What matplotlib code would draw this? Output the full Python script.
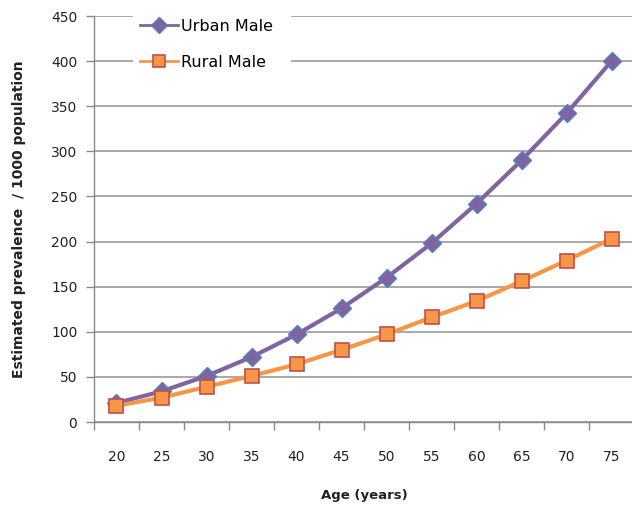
import matplotlib.pyplot as plt
from matplotlib.patches import Rectangle
import numpy as np

ages = ['20', '25', '30', '35', '40', '45', '50', '55', '60', '65', '70', '75']
urban_male = [21, 34, 51, 72, 97, 126, 160, 198, 242, 290, 342, 400]
rural_male = [18, 27, 39, 51, 64, 80, 97, 116, 134, 156, 179, 203]

fig = plt.figure(figsize=(6.32, 5.07), dpi=100)
ax = fig.add_axes([94/632, 85/507, 540/632, 406/507])

x = np.arange(len(ages))
ax.plot(x, urban_male, color='#8064A2', linewidth=3, marker='D', markersize=9,
        markerfacecolor='#8064A2', markeredgecolor='#4F81BD', markeredgewidth=1,
        label='Urban Male', zorder=3)
ax.plot(x, rural_male, color='#F79646', linewidth=3, marker='s', markersize=10.5,
        markerfacecolor='#F79646', markeredgecolor='#C0504D', markeredgewidth=1.2,
        label='Rural Male', zorder=3)

ax.set_xlim(-0.5, len(ages) - 0.5)
ax.set_ylim(0, 450)
ax.set_yticks(np.arange(0, 451, 50))
ax.set_xticks(x)
ax.set_xticklabels(ages)
ax.set_xticks(np.arange(-0.5, len(ages), 1), minor=True)
ax.tick_params(axis='x', which='major', length=0, pad=20, labelsize=10, labelcolor='#222222')
ax.tick_params(axis='x', which='minor', length=6, color='#888888', width=1)
ax.tick_params(axis='y', length=6, color='#888888', width=1, labelsize=10, labelcolor='#222222', pad=6)

ax.grid(axis='y', color='#999999', linewidth=1.2)
ax.set_axisbelow(True)
for s in ['top', 'right']:
    ax.spines[s].set_visible(False)
for s in ['left', 'bottom']:
    ax.spines[s].set_color('#888888')
    ax.spines[s].set_linewidth(1)

ax.set_xlabel('Age (years)', fontsize=9.5, fontweight='bold', color='#222222', labelpad=18)
ax.set_ylabel('Estimated prevalence  / 1000 population', fontsize=10, fontweight='bold',
              color='#222222', labelpad=18)

# white box behind the legend hides the gridlines
ax.add_patch(Rectangle((0.072, 0.845), 0.293, 0.2, transform=ax.transAxes,
                       facecolor='white', edgecolor='none', zorder=1.5, clip_on=False))
leg = ax.legend(loc='upper left', bbox_to_anchor=(0.085, 0.993), fontsize=11.5, frameon=False,
                labelspacing=1.3, handlelength=2.4, handletextpad=0.2, borderpad=0, borderaxespad=0)
for ln in leg.get_lines():
    ln.set_linewidth(2)
    ln.set_markersize(8)

fig.savefig('out.png', dpi=100)
